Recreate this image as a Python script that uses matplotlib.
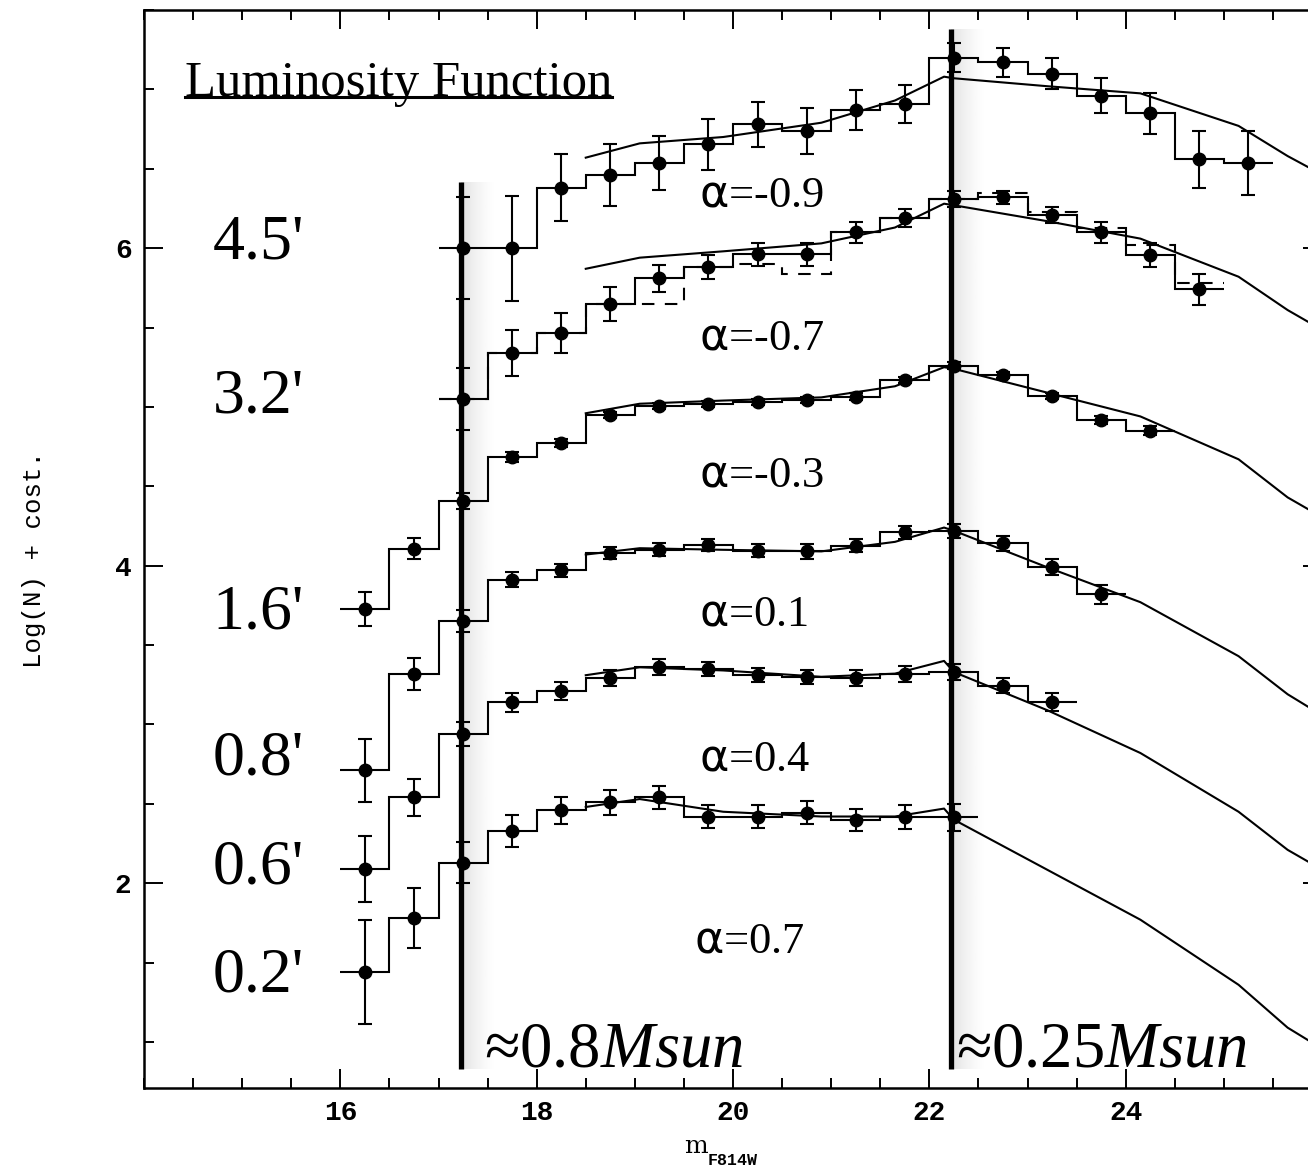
import numpy as np
import matplotlib
matplotlib.use('Agg')
import matplotlib.pyplot as plt
from matplotlib.lines import Line2D

plt.rcParams['font.family'] = 'Liberation Mono'
plt.rcParams['mathtext.fontset'] = 'custom'
plt.rcParams['mathtext.rm'] = 'Liberation Serif'
plt.rcParams['mathtext.it'] = 'Liberation Serif:italic'
plt.rcParams['mathtext.sf'] = 'DejaVu Sans'

# ---- observed luminosity functions (bin centres, log N, errors) ----
x_a = np.arange(17.25, 25.3, 0.5)
y_a = [6.0, 6.0, 6.38, 6.46, 6.535, 6.654, 6.78, 6.74, 6.87, 6.91, 7.20, 7.17, 7.10, 6.96, 6.85, 6.56, 6.535]
e_a = [0.32, 0.33, 0.21, 0.195, 0.17, 0.16, 0.14, 0.145, 0.125, 0.12, 0.09, 0.09, 0.10, 0.11, 0.13, 0.18, 0.20]

x_b = np.arange(17.25, 24.8, 0.5)
y_b = [5.05, 5.34, 5.465, 5.65, 5.81, 5.88, 5.96, 5.96, 6.10, 6.19, 6.31, 6.32, 6.21, 6.10, 5.956, 5.74]
y_b2 = [5.05, 5.34, 5.465, 5.65, 5.65, 5.88, 5.90, 5.84, 6.10, 6.19, 6.31, 6.35, 6.23, 6.13, 6.02, 5.78]
e_b = [0.195, 0.145, 0.125, 0.107, 0.085, 0.075, 0.07, 0.07, 0.065, 0.055, 0.05, 0.04, 0.05, 0.065, 0.075, 0.10]

x_c = np.arange(16.25, 24.3, 0.5)
y_c = [3.73, 4.107, 4.41, 4.685, 4.77, 4.95, 5.006, 5.02, 5.03, 5.045, 5.065, 5.17, 5.26, 5.20, 5.07, 4.92, 4.85]
e_c = [0.107, 0.065, 0.05, 0.03, 0.025, 0.02, 0.02, 0.02, 0.02, 0.02, 0.02, 0.02, 0.02, 0.02, 0.02, 0.025, 0.03]

x_d = np.arange(16.25, 23.8, 0.5)
y_d = [2.71, 3.32, 3.65, 3.91, 3.97, 4.08, 4.10, 4.13, 4.095, 4.09, 4.125, 4.21, 4.22, 4.14, 3.99, 3.82]
e_d = [0.2, 0.1, 0.07, 0.047, 0.04, 0.04, 0.04, 0.035, 0.04, 0.045, 0.04, 0.04, 0.045, 0.045, 0.05, 0.06]

x_e = np.arange(16.25, 23.3, 0.5)
y_e = [2.09, 2.54, 2.94, 3.14, 3.21, 3.29, 3.36, 3.35, 3.31, 3.30, 3.29, 3.32, 3.33, 3.245, 3.14]
e_e = [0.21, 0.115, 0.075, 0.06, 0.055, 0.05, 0.05, 0.045, 0.045, 0.045, 0.05, 0.05, 0.05, 0.05, 0.055]

x_f = np.arange(16.25, 22.3, 0.5)
y_f = [1.44, 1.78, 2.13, 2.33, 2.46, 2.51, 2.54, 2.42, 2.42, 2.445, 2.40, 2.415, 2.415]
e_f = [0.33, 0.19, 0.13, 0.1, 0.085, 0.08, 0.075, 0.07, 0.07, 0.075, 0.07, 0.075, 0.085]

# ---- model luminosity functions ----
x_mod = [18.5, 19.05, 19.9, 20.9, 21.65, 22.15, 22.25, 23.2, 24.15, 25.15, 25.65, 26.1]
m_a = [6.57, 6.66, 6.70, 6.79, 6.93, 7.08, 7.07, 7.02, 6.975, 6.77, 6.58, 6.43]
m_b = [5.87, 5.94, 5.98, 6.03, 6.13, 6.28, 6.27, 6.17, 6.06, 5.82, 5.61, 5.45]
m_c = [4.96, 5.02, 5.04, 5.06, 5.13, 5.25, 5.24, 5.09, 4.94, 4.67, 4.43, 4.27]
m_d = [4.07, 4.11, 4.10, 4.09, 4.15, 4.24, 4.22, 3.99, 3.77, 3.43, 3.19, 3.02]
m_e = [3.31, 3.36, 3.34, 3.30, 3.32, 3.40, 3.33, 3.09, 2.82, 2.45, 2.21, 2.05]
m_f = [2.48, 2.53, 2.45, 2.42, 2.42, 2.47, 2.40, 2.085, 1.77, 1.36, 1.09, 0.92]

radii = ["4.5'", "3.2'", "1.6'", "0.8'", "0.6'", "0.2'"]
radius_y = [6.03, 5.06, 3.70, 2.78, 2.09, 1.415]
alphas = ["=-0.9", "=-0.7", "=-0.3", "=0.1", "=0.4", "=0.7"]
alpha_y = [6.33, 5.43, 4.57, 3.69, 2.78, 1.635]
alpha_x = [19.65, 19.65, 19.65, 19.65, 19.65, 19.60]

mass_x = [17.23, 22.22]
mass_top = [6.415, 7.38]
mass_lbl = ["≈0.8", "≈0.25"]
mass_lbl_x = [17.46, 22.27]

fig = plt.figure(figsize=(13.08, 11.69), dpi=100)
ax = fig.add_axes([144 / 1308, 81 / 1169, 1178 / 1308, 1078 / 1169])

series = [(x_a, y_a, e_a, m_a), (x_b, y_b, e_b, m_b), (x_c, y_c, e_c, m_c),
          (x_d, y_d, e_d, m_d), (x_e, y_e, e_e, m_e), (x_f, y_f, e_f, m_f)]
for xs, ys, es, ms in series:
    edges = np.append(xs - 0.25, xs[-1] + 0.25)
    ax.stairs(ys, edges, baseline=None, color='k', lw=1.5, zorder=3)
    ax.errorbar(xs, ys, yerr=es, fmt='o', color='k', ms=9, capsize=5,
                elinewidth=1.5, capthick=1.5, zorder=4)
    ax.plot(x_mod, ms, color='k', lw=1.5, zorder=3)

edges_b = np.append(x_b - 0.25, x_b[-1] + 0.25)
ax.stairs(y_b2, edges_b, baseline=None, color='k', lw=1.5, ls=(0, (6, 5)), zorder=3)

# vertical mass limits with soft shadow
grad = 1 - 0.12 * (1 - np.linspace(0, 1, 64)) ** 1.5
grad = grad.reshape(1, -1)
for xm, yt in zip(mass_x, mass_top):
    ax.imshow(grad, extent=(xm, xm + 0.36, 0.83, yt), cmap='gray', vmin=0, vmax=1,
              aspect='auto', zorder=1, interpolation='bilinear')
    ax.plot([xm, xm], [0.83, yt], color='k', lw=3.8, zorder=5, solid_capstyle='butt')

ax.set_xlim(14, 26)
ax.set_ylim(0.71, 7.5)

ax.set_xticks([16, 18, 20, 22, 24])
ax.set_xticks(np.arange(14, 26.1, 0.5), minor=True)
ax.set_yticks([2, 4, 6])
ax.set_yticks(np.arange(1, 7.6, 0.5), minor=True)
ax.tick_params(which='both', direction='in', top=True, right=True, width=1.4)
ax.tick_params(which='major', length=14, labelsize=20, pad=9)
ax.tick_params(which='minor', length=7)
for lbl in ax.get_xticklabels() + ax.get_yticklabels():
    lbl.set_fontweight('bold')
for sp in ax.spines.values():
    sp.set_linewidth(1.8)

ax.set_ylabel('Log(N) + cost.', fontsize=18.5)
ax.yaxis.set_label_coords(-0.083, 0.49)
fig.text(684 / 1308, 1 - 1153 / 1169, 'm', fontsize=18, family='DejaVu Serif',
         ha='left', va='baseline')
fig.text(708 / 1308, 1 - 1165 / 1169, 'F814W', fontsize=12, fontweight='bold',
         ha='left', va='baseline')

serif = 'Liberation Serif'
title = ax.text(14.42, 6.96, 'Luminosity Function', fontsize=36.5, family=serif,
                ha='left', va='baseline')

for lbl, yy in zip(radii, radius_y):
    ax.text(14.70, yy, lbl, fontsize=46, family=serif, ha='left', va='center')

for lbl, xx, yy in zip(alphas, alpha_x, alpha_y):
    ax.text(xx, yy, r'$\mathsf{\alpha}$' + lbl, fontsize=32, family=serif,
            ha='left', va='center')

for lbl, xl in zip(mass_lbl, mass_lbl_x):
    ax.text(xl, 0.845, lbl + r'$\mathit{Msun}$', fontsize=46.5, family=serif,
            ha='left', va='baseline', zorder=6)

# underline the title
fig.canvas.draw()
bb = title.get_window_extent()
yline = bb.y0 + 0.22 * bb.height
fig.add_artist(Line2D([bb.x0 / fig.bbox.width, bb.x1 / fig.bbox.width],
                      [yline / fig.bbox.height, yline / fig.bbox.height],
                      color='k', lw=2.2))

fig.savefig('out.png', dpi=100)
